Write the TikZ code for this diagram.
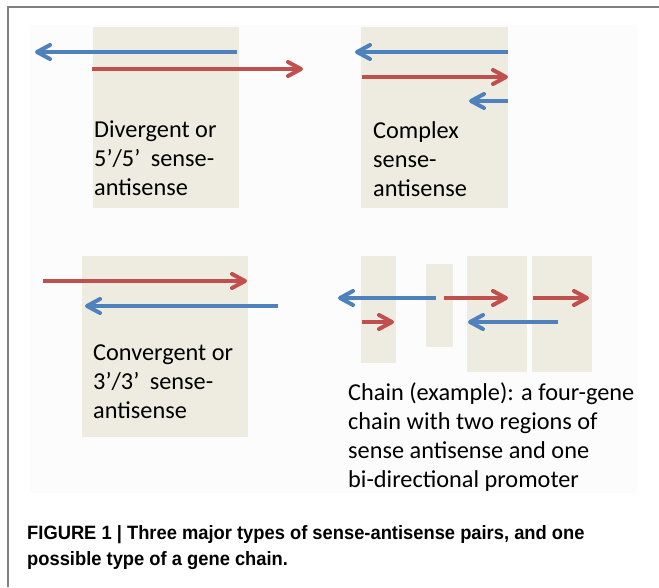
\documentclass[tikz,border=0pt]{standalone}
\usepackage{fontspec}
\setmainfont{Carlito}
\newfontfamily\capfont[FakeStretch=0.95]{Liberation Sans}
\usepackage{tikz}
\usetikzlibrary{arrows.meta}
\definecolor{genebg}{HTML}{EEECE1}
\definecolor{senseRed}{HTML}{C0504D}
\definecolor{antiBlue}{HTML}{4F81BD}
\definecolor{slide}{HTML}{FCFCFC}

\begin{document}
\begin{tikzpicture}[x=1pt,y=-1pt,
		gene/.style={fill=genebg,draw=none},
		sense/.style={line width=4pt,senseRed,-{Straight Barb[round,length=13pt,width=14pt]}},
		anti/.style={line width=4pt,antiBlue,-{Straight Barb[round,length=13pt,width=14pt]}},
		lbl/.style={anchor=base west,align=left,inner sep=0pt,font=\fontsize{24.3}{28.7}\selectfont},
		figcaption/.style={anchor=base west,align=left,inner sep=0pt,font=\capfont\bfseries\fontsize{19.3}{26}\selectfont}]
			\useasboundingbox (0,0) rectangle (659,587);
			\fill [white] (0,0) rectangle (659,587);
			\fill [slide] (30,25) rectangle (637,493);
			\draw [line width=1.5pt,gray] (8,587) -- (8,7) -- (659,7);
			% divergent
			\fill [gene] (93,27) rectangle (239,208);
			\draw [anti] (237,52) -- (35,52);
			\draw [sense] (92,69) -- (303,69);
			\node [lbl] (divtxt) at (94,195) {Divergent or\\5’/5’\hspace{5pt} sense-\\antisense};
			% complex
			\fill [gene] (361,27) rectangle (508,208);
			\draw [anti] (508,52) -- (355,52);
			\draw [sense] (362,77) -- (508,77);
			\draw [anti] (508,101) -- (469,101);
			\node [lbl] (cpxtxt) at (373,196) {Complex\\sense-\\antisense};
			% convergent
			\fill [gene] (82,256) rectangle (248,437);
			\draw [sense] (43,281) -- (247,281);
			\draw [anti] (278,306) -- (85,306);
			\node [lbl] (cnvtxt) at (93,418) {Convergent or\\3’/3’\hspace{5pt} sense-\\antisense};
			% chain
			\fill [gene] (361,256) rectangle (396,363);
			\fill [gene] (426,264) rectangle (453,347);
			\fill [gene] (467,256) rectangle (527,372);
			\fill [gene] (532,256) rectangle (592,372);
			\draw [anti] (436,298) -- (338,298);
			\draw [sense] (444,298) -- (508,298);
			\draw [sense] (533,298) -- (589,298);
			\draw [sense] (362,322) -- (394,322);
			\draw [anti] (558,322) -- (468,322);
			\node [lbl] (chntxt) at (348,487) {Chain (example): a four-gene\\chain with two regions of\\sense antisense and one\\bi-directional promoter};
			\node [figcaption] (figcap) at (27,565) {FIGURE 1 | Three major types of sense-antisense pairs, and one\\possible type of a gene chain.};
		\end{tikzpicture}
\end{document}
